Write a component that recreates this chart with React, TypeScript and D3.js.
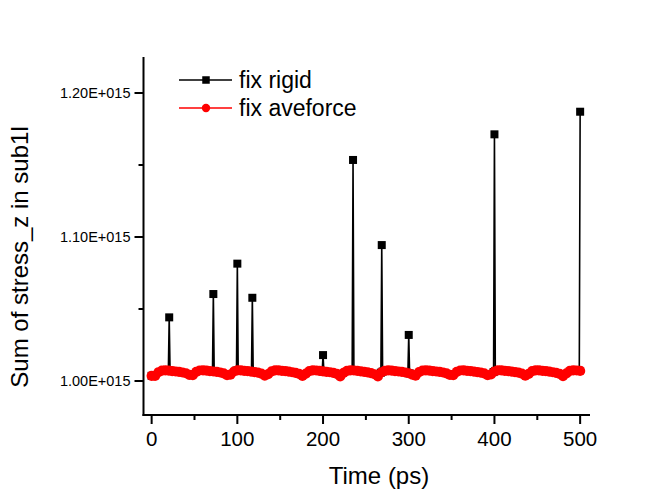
import React from 'react';
import * as d3 from 'd3';

// fix aveforce: sampled every 4 ps (values in units of 1E+015)
const aveforceStep = 4;
const aveforceValues = [
  1.0036, 1.0035, 1.0061, 1.0072, 1.0074, 1.0072, 1.0069, 1.0066, 1.0063, 1.0059, 1.0054,
  1.0043, 1.0040, 1.0063, 1.0073, 1.0074, 1.0072, 1.0069, 1.0066, 1.0063, 1.0059, 1.0053,
  1.0041, 1.0044, 1.0066, 1.0074, 1.0074, 1.0071, 1.0068, 1.0065, 1.0062, 1.0058, 1.0052,
  1.0038, 1.0048, 1.0067, 1.0074, 1.0074, 1.0071, 1.0068, 1.0065, 1.0061, 1.0057, 1.0050,
  1.0035, 1.0052, 1.0069, 1.0074, 1.0073, 1.0070, 1.0067, 1.0064, 1.0061, 1.0056, 1.0049,
  1.0032, 1.0056, 1.0070, 1.0074, 1.0073, 1.0070, 1.0067, 1.0064, 1.0060, 1.0055, 1.0047,
  1.0032, 1.0059, 1.0071, 1.0074, 1.0072, 1.0069, 1.0066, 1.0063, 1.0059, 1.0054, 1.0045,
  1.0037, 1.0062, 1.0072, 1.0074, 1.0072, 1.0069, 1.0066, 1.0063, 1.0059, 1.0053, 1.0042,
  1.0041, 1.0064, 1.0073, 1.0074, 1.0071, 1.0068, 1.0065, 1.0062, 1.0058, 1.0053, 1.0040,
  1.0046, 1.0066, 1.0074, 1.0074, 1.0071, 1.0068, 1.0065, 1.0062, 1.0058, 1.0052, 1.0037,
  1.0049, 1.0068, 1.0074, 1.0074, 1.0071, 1.0068, 1.0065, 1.0061, 1.0057, 1.0050, 1.0034,
  1.0053, 1.0070, 1.0074, 1.0073, 1.0070,
];

// fix rigid: spikes plus the samples either side of them
const rigidTimes = [
  0, 19.5, 20.5, 21.5, 71, 72, 73, 99, 100, 101, 116.5, 117.5, 118.5,
  199, 200, 201, 234, 235, 236, 267.5, 268.5, 269.5, 299, 300, 301, 399, 400, 401, 499, 500,
];
const rigidValues = [
  1.0036, 1.0072, 1.0442, 1.0070, 1.0067, 1.0604, 1.0065, 1.0073, 1.0815, 1.0074, 1.0065, 1.0578, 1.0063,
  1.0068, 1.0180, 1.0066, 1.0074, 1.1535, 1.0073, 1.0058, 1.0944, 1.0066, 1.0055, 1.0320, 1.0053,
  1.0062, 1.1713, 1.0070, 1.0071, 1.1870,
];

const xTicks = [0, 100, 200, 300, 400, 500];
const xMinorTicks = [50, 150, 250, 350, 450];
const yTicks = [1.0, 1.1, 1.2];
const yMinorTicks = [1.05, 1.15];

const legendItems = ['fix rigid', 'fix aveforce'];

const W = 653;
const H = 500;
const FONT = 'Liberation Sans, Arial, sans-serif';

export default function App() {
  const x = d3.scaleLinear().domain([-9.5, 511.5]).range([143.5, 590]);
  const y = d3.scaleLinear().domain([0.9764, 1.225]).range([415, 57]);

  const ave = aveforceValues.map((v, i) => [i * aveforceStep, v] as [number, number]);
  const rigid = rigidTimes.map((t, i) => [t, rigidValues[i]] as [number, number]);

  const line = d3
    .line<[number, number]>()
    .x((d) => x(d[0]))
    .y((d) => y(d[1]));

  const x0 = x.range()[0];
  const y0 = y.range()[0];
  const sq = 8;

  return (
    <svg width={W} height={H} style={{ position: 'absolute', left: 0, top: 0, background: '#fff' }}>
      {/* fix rigid */}
      <path d={line(rigid)!} fill="none" stroke="#000" strokeWidth={1.6} />
      {rigid.map((d, i) => (
        <rect key={i} x={x(d[0]) - sq / 2} y={y(d[1]) - sq / 2} width={sq} height={sq} fill="#000" />
      ))}

      {/* fix aveforce */}
      <path d={line(ave)!} fill="none" stroke="#ff0000" strokeWidth={2} />
      {ave.map((d, i) => (
        <circle key={i} cx={x(d[0])} cy={y(d[1])} r={5.1} fill="#ff0000" />
      ))}

      {/* axes */}
      <line x1={x0} x2={x0} y1={y.range()[1]} y2={y0 + 1} stroke="#000" strokeWidth={2} />
      <line x1={x0 - 1} x2={x.range()[1]} y1={y0} y2={y0} stroke="#000" strokeWidth={2} />

      {xTicks.map((t) => (
        <g key={t}>
          <line x1={x(t)} x2={x(t)} y1={y0} y2={y0 + 9} stroke="#000" strokeWidth={2} />
          <text x={x(t)} y={y0 + 31} textAnchor="middle" fontFamily={FONT} fontSize={20.5} fill="#000">
            {t}
          </text>
        </g>
      ))}
      {xMinorTicks.map((t) => (
        <line key={t} x1={x(t)} x2={x(t)} y1={y0} y2={y0 + 5} stroke="#000" strokeWidth={2} />
      ))}

      {yTicks.map((t) => (
        <g key={t}>
          <line x1={x0 - 9} x2={x0} y1={y(t)} y2={y(t)} stroke="#000" strokeWidth={2} />
          <text
            x={x0 - 13}
            y={y(t)}
            textAnchor="end"
            dominantBaseline="central"
            fontFamily={FONT}
            fontSize={14.5}
            fill="#000"
          >
            {`${t.toFixed(2)}E+015`}
          </text>
        </g>
      ))}
      {yMinorTicks.map((t) => (
        <line key={t} x1={x0 - 5} x2={x0} y1={y(t)} y2={y(t)} stroke="#000" strokeWidth={2} />
      ))}

      {/* axis titles */}
      <text x={379} y={484} textAnchor="middle" fontFamily={FONT} fontSize={24} fill="#000">
        Time (ps)
      </text>
      <text
        transform={`translate(28,${257}) rotate(-90)`}
        textAnchor="middle"
        fontFamily={FONT}
        fontSize={24}
        fill="#000"
      >
        Sum of stress_z in sub1l
      </text>

      {/* legend */}
      {legendItems.map((name, i) => {
        const ly = 80 + i * 28;
        const color = i === 0 ? '#000' : '#ff0000';
        return (
          <g key={name}>
            <line x1={179} x2={232} y1={ly} y2={ly} stroke={color} strokeWidth={1.6} />
            {i === 0 ? (
              <rect x={206 - 3.75} y={ly - 3.75} width={7.5} height={7.5} fill={color} />
            ) : (
              <circle cx={206} cy={ly} r={4.2} fill={color} />
            )}
            <text x={239} y={ly + 8} fontFamily={FONT} fontSize={23} fill="#000">
              {name}
            </text>
          </g>
        );
      })}
    </svg>
  );
}
